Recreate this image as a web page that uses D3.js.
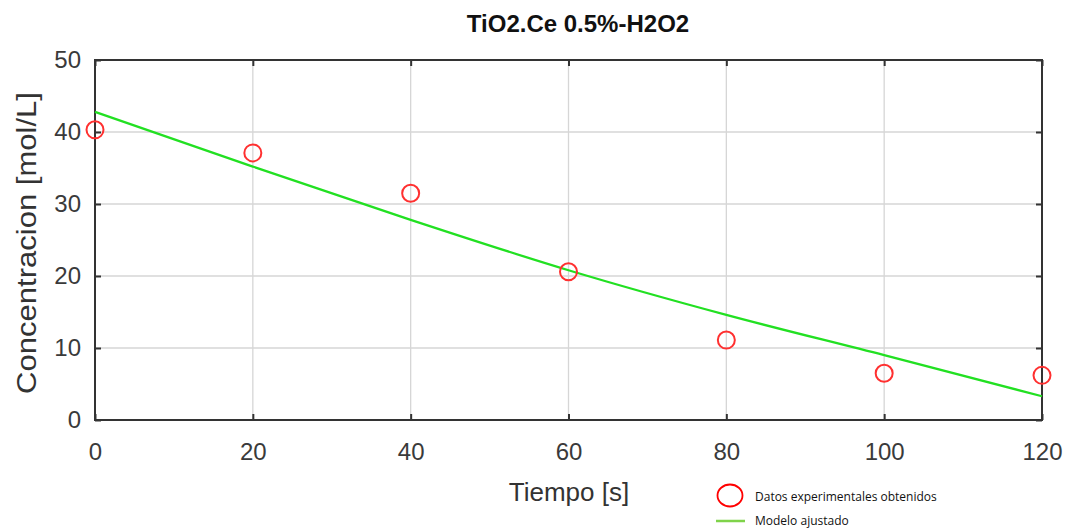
<!DOCTYPE html>
<html>
<head>
<meta charset="utf-8">
<script src="https://cdn.jsdelivr.net/npm/d3@7.9.0/dist/d3.min.js"></script>
<style>
  body { margin: 0; background: #fff; }
  svg { display: block; }
</style>
</head>
<body>
<svg width="1069" height="531"></svg>
<script>
// experimental points
const tiempo = [0, 20, 40, 60, 80, 100, 120];
const concentracion = [40.3, 37.1, 31.5, 20.6, 11.1, 6.5, 6.2];
// fitted model
const modeloT = [0, 20, 40, 60, 80, 100, 120];
const modeloC = [42.8, 35.2, 27.8, 20.8, 14.6, 9.0, 3.3];

const xTicks = [0, 20, 40, 60, 80, 100, 120];
const yTicks = [0, 10, 20, 30, 40, 50];

const svg = d3.select('svg');
const m = { left: 95, right: 1042, top: 60, bottom: 420 };
const font = '"Liberation Sans", Arial, sans-serif';

let x = d3.scaleLinear().domain([0, 120]).range([m.left, m.right]);
let y = d3.scaleLinear().domain([0, 50]).range([m.bottom, m.top]);

// grid
svg.append('g')
  .selectAll('line')
  .data(xTicks)
  .join('line')
  .attr('x1', d => x(d)).attr('x2', d => x(d))
  .attr('y1', m.top).attr('y2', m.bottom)
  .attr('stroke', '#d6d6d6').attr('stroke-width', 1.3);
svg.append('g')
  .selectAll('line')
  .data(yTicks)
  .join('line')
  .attr('x1', m.left).attr('x2', m.right)
  .attr('y1', d => y(d)).attr('y2', d => y(d))
  .attr('stroke', '#d6d6d6').attr('stroke-width', 1.3);

// axes (inner ticks on all four sides)
const axisStyle = g => {
  g.select('.domain').remove();
  g.selectAll('.tick line').attr('stroke', '#333').attr('stroke-width', 2);
  g.selectAll('.tick text')
    .attr('fill', '#3a3a3a')
    .style('font-family', font)
    .style('font-size', '24px');
};

svg.append('g')
  .attr('transform', `translate(0,${m.bottom})`)
  .call(d3.axisBottom(x).tickValues(xTicks).tickSizeInner(-6).tickPadding(23))
  .call(axisStyle);
svg.append('g')
  .attr('transform', `translate(${m.left},0)`)
  .call(d3.axisLeft(y).tickValues(yTicks).tickSizeInner(-6).tickPadding(14))
  .call(axisStyle);
svg.append('g')
  .attr('transform', `translate(0,${m.top})`)
  .call(d3.axisTop(x).tickValues(xTicks).tickSizeInner(-6).tickFormat(''))
  .call(axisStyle);
svg.append('g')
  .attr('transform', `translate(${m.right},0)`)
  .call(d3.axisRight(y).tickValues(yTicks).tickSizeInner(-6).tickFormat(''))
  .call(axisStyle);

// frame
svg.append('rect')
  .attr('x', m.left).attr('y', m.top)
  .attr('width', m.right - m.left).attr('height', m.bottom - m.top)
  .attr('fill', 'none').attr('stroke', '#333').attr('stroke-width', 2);

// model line
let line = d3.line()
  .x((d, i) => x(modeloT[i]))
  .y(d => y(d))
  .curve(d3.curveMonotoneX);
svg.append('path')
  .attr('d', line(modeloC))
  .attr('fill', 'none')
  .attr('stroke', '#22e022')
  .attr('stroke-width', 2.3);

// experimental points
svg.append('g')
  .selectAll('circle')
  .data(concentracion)
  .join('circle')
  .attr('cx', (d, i) => x(tiempo[i]))
  .attr('cy', d => y(d))
  .attr('r', 8.5)
  .attr('fill', 'none')
  .attr('stroke', '#ff3030')
  .attr('stroke-width', 2);

// title and axis labels
svg.append('text')
  .attr('x', 578).attr('y', 32)
  .attr('text-anchor', 'middle')
  .style('font-family', font)
  .style('font-size', '24px').style('font-weight', 'bold')
  .attr('fill', '#111')
  .text('TiO2.Ce 0.5%-H2O2');

svg.append('text')
  .attr('x', 569).attr('y', 501)
  .attr('text-anchor', 'middle')
  .style('font-family', font)
  .style('font-size', '26px')
  .attr('fill', '#333')
  .text('Tiempo [s]');

svg.append('text')
  .attr('transform', `translate(36,${(m.top + m.bottom) / 2 + 3}) rotate(-90)`)
  .attr('text-anchor', 'middle')
  .style('font-family', font)
  .style('font-size', '27px')
  .attr('textLength', 302)
  .attr('lengthAdjust', 'spacingAndGlyphs')
  .attr('fill', '#333')
  .text('Concentracion [mol/L]');

// legend
const legend = svg.append('g');
legend.append('ellipse')
  .attr('cx', 730).attr('cy', 495.5)
  .attr('rx', 12.5).attr('ry', 11)
  .attr('fill', 'none').attr('stroke', '#ff0000').attr('stroke-width', 1.8);
legend.append('text')
  .attr('x', 755).attr('y', 501)
  .style('font-family', '"Open Sans", sans-serif')
  .style('font-size', '12px')
  .attr('fill', '#111')
  .text('Datos experimentales obtenidos');
legend.append('line')
  .attr('x1', 716).attr('x2', 745)
  .attr('y1', 521).attr('y2', 521)
  .attr('stroke', '#7fd34a').attr('stroke-width', 2.5);
legend.append('text')
  .attr('x', 755).attr('y', 525)
  .style('font-family', '"Open Sans", sans-serif')
  .style('font-size', '12px')
  .attr('fill', '#111')
  .text('Modelo ajustado');
</script>
</body>
</html>
